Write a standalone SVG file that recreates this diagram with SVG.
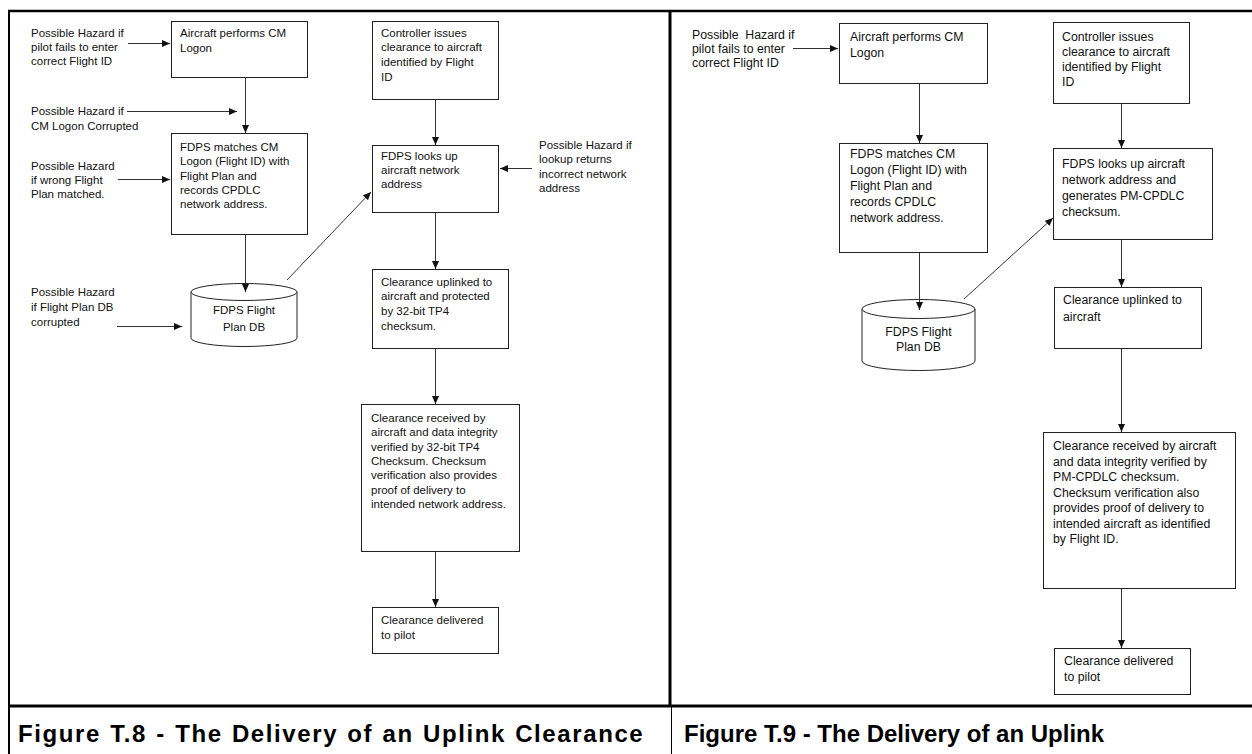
<svg xmlns="http://www.w3.org/2000/svg" width="1252" height="754" viewBox="0 0 1252 754">
  <defs>
    <marker id="ah" markerUnits="userSpaceOnUse" markerWidth="8" markerHeight="7" refX="8" refY="3.5" orient="auto">
      <path d="M0,0 L8,3.5 L0,7 Z" fill="#111"/>
    </marker>
    <style>
      .frame { stroke: #000; fill: none; }
      .box { fill: #fff; stroke: #222; stroke-width: 1; }
      .db { fill: #fff; stroke: #222; stroke-width: 1; }
      .conn line { stroke: #333; stroke-width: 1; fill: none; marker-end: url(#ah); }
      text { font-family: "Liberation Sans", Arial, sans-serif; fill: #111; }
      .s { font-size: 11.5px; }
      .m { font-size: 12.3px; }
      .mid { text-anchor: middle; }
      .cap { font-size: 24px; font-weight: bold; fill: #000; }
    </style>
  </defs>
  <rect width="1252" height="754" fill="#fff"/>

  <!-- table frame -->
  <g id="frame" class="frame">
    <line x1="8" y1="11" x2="1252" y2="11" stroke-width="2.5"/>
    <line x1="9" y1="10" x2="9" y2="754" stroke-width="2"/>
    <line x1="670" y1="10" x2="670" y2="706" stroke-width="3"/>
    <line x1="671.5" y1="706" x2="671.5" y2="754" stroke-width="1"/>
    <line x1="8" y1="706" x2="1252" y2="706" stroke-width="3"/>
  </g>

  <!-- Figure T.8 -->
  <g id="t8-hazard-flightid">
    <text class="s" x="31" y="37">Possible Hazard if</text>
    <text class="s" x="31" y="51">pilot fails to enter</text>
    <text class="s" x="31" y="65">correct Flight ID</text>
  </g>
  <g id="t8-logon">
    <rect class="box" x="171.5" y="21.5" width="136" height="56"/>
    <text class="s" x="180" y="37">Aircraft performs CM</text>
    <text class="s" x="180" y="52">Logon</text>
  </g>
  <g id="t8-hazard-logon">
    <text class="s" x="31" y="115">Possible Hazard if</text>
    <text class="s" x="31" y="130">CM Logon Corrupted</text>
  </g>
  <g id="t8-match">
    <rect class="box" x="171.5" y="133.5" width="136" height="101"/>
    <text class="s" x="180" y="151">FDPS matches CM</text>
    <text class="s" x="180" y="165">Logon (Flight ID) with</text>
    <text class="s" x="180" y="180">Flight Plan and</text>
    <text class="s" x="180" y="194">records CPDLC</text>
    <text class="s" x="180" y="208">network address.</text>
  </g>
  <g id="t8-hazard-plan">
    <text class="s" x="31" y="170">Possible Hazard</text>
    <text class="s" x="31" y="184">if wrong Flight</text>
    <text class="s" x="31" y="198">Plan matched.</text>
  </g>
  <g id="t8-db">
    <path class="db" d="M191,292 A53,8.5 0 0 1 297,292 L297,338 A53,8.5 0 0 1 191,338 Z"/>
    <path class="db" d="M191,292 A53,8.5 0 0 0 297,292"/>
    <text class="s mid" x="244" y="314">FDPS Flight</text>
    <text class="s mid" x="244" y="331">Plan DB</text>
  </g>
  <g id="t8-hazard-db">
    <text class="s" x="31" y="296">Possible Hazard</text>
    <text class="s" x="31" y="311">if Flight Plan DB</text>
    <text class="s" x="31" y="326">corrupted</text>
  </g>
  <g id="t8-controller">
    <rect class="box" x="372.5" y="21.5" width="126" height="78"/>
    <text class="s" x="381" y="37">Controller issues</text>
    <text class="s" x="381" y="51">clearance to aircraft</text>
    <text class="s" x="381" y="66">identified by Flight</text>
    <text class="s" x="381" y="81">ID</text>
  </g>
  <g id="t8-lookup">
    <rect class="box" x="372.5" y="145.5" width="126" height="67"/>
    <text class="s" x="381" y="160">FDPS looks up</text>
    <text class="s" x="381" y="174">aircraft network</text>
    <text class="s" x="381" y="188">address</text>
  </g>
  <g id="t8-hazard-lookup">
    <text class="s" x="539" y="149">Possible Hazard if</text>
    <text class="s" x="539" y="163">lookup returns</text>
    <text class="s" x="539" y="178">incorrect network</text>
    <text class="s" x="539" y="192">address</text>
  </g>
  <g id="t8-uplink">
    <rect class="box" x="372.5" y="269.5" width="136" height="79"/>
    <text class="s" x="381" y="286">Clearance uplinked to</text>
    <text class="s" x="381" y="300">aircraft and protected</text>
    <text class="s" x="381" y="315">by 32-bit TP4</text>
    <text class="s" x="381" y="330">checksum.</text>
  </g>
  <g id="t8-received">
    <rect class="box" x="361.5" y="404.5" width="158" height="147"/>
    <text class="s" x="371" y="422">Clearance received by</text>
    <text class="s" x="371" y="436">aircraft and data integrity</text>
    <text class="s" x="371" y="451">verified by 32-bit TP4</text>
    <text class="s" x="371" y="465">Checksum. Checksum</text>
    <text class="s" x="371" y="479">verification also provides</text>
    <text class="s" x="371" y="494">proof of delivery to</text>
    <text class="s" x="371" y="508">intended network address.</text>
  </g>
  <g id="t8-delivered">
    <rect class="box" x="372.5" y="607.5" width="126" height="46"/>
    <text class="s" x="381" y="624">Clearance delivered</text>
    <text class="s" x="381" y="639">to pilot</text>
  </g>

  <!-- Figure T.9 -->
  <g id="t9-hazard-flightid">
    <text class="m" x="692" y="39" style="white-space:pre">Possible  Hazard if</text>
    <text class="m" x="692" y="53">pilot fails to enter</text>
    <text class="m" x="692" y="67">correct Flight ID</text>
  </g>
  <g id="t9-logon">
    <rect class="box" x="839.5" y="23.5" width="148" height="60"/>
    <text class="m" x="850" y="41">Aircraft performs CM</text>
    <text class="m" x="850" y="57">Logon</text>
  </g>
  <g id="t9-match">
    <rect class="box" x="839.5" y="143.5" width="148" height="109"/>
    <text class="m" x="850" y="158">FDPS matches CM</text>
    <text class="m" x="850" y="174">Logon (Flight ID) with</text>
    <text class="m" x="850" y="190">Flight Plan and</text>
    <text class="m" x="850" y="206">records CPDLC</text>
    <text class="m" x="850" y="222">network address.</text>
  </g>
  <g id="t9-db">
    <path class="db" d="M862,309 A56.5,9.5 0 0 1 975,309 L975,361 A56.5,9.5 0 0 1 862,361 Z"/>
    <path class="db" d="M862,309 A56.5,9.5 0 0 0 975,309"/>
    <text class="m mid" x="918.5" y="336">FDPS Flight</text>
    <text class="m mid" x="918.5" y="351">Plan DB</text>
  </g>
  <g id="t9-controller">
    <rect class="box" x="1053.5" y="22.5" width="136" height="81"/>
    <text class="m" x="1062" y="41">Controller issues</text>
    <text class="m" x="1062" y="56">clearance to aircraft</text>
    <text class="m" x="1062" y="71">identified by Flight</text>
    <text class="m" x="1062" y="86">ID</text>
  </g>
  <g id="t9-lookup">
    <rect class="box" x="1053.5" y="148.5" width="159" height="91"/>
    <text class="m" x="1062" y="168">FDPS looks up aircraft</text>
    <text class="m" x="1062" y="184">network address and</text>
    <text class="m" x="1062" y="200">generates PM-CPDLC</text>
    <text class="m" x="1062" y="216">checksum.</text>
  </g>
  <g id="t9-uplink">
    <rect class="box" x="1054.5" y="287.5" width="147" height="61"/>
    <text class="m" x="1063" y="304">Clearance uplinked to</text>
    <text class="m" x="1063" y="321">aircraft</text>
  </g>
  <g id="t9-received">
    <rect class="box" x="1043.5" y="432.5" width="192" height="156"/>
    <text class="m" x="1053" y="450">Clearance received by aircraft</text>
    <text class="m" x="1053" y="466">and data integrity verified by</text>
    <text class="m" x="1053" y="481">PM-CPDLC checksum.</text>
    <text class="m" x="1053" y="497">Checksum verification also</text>
    <text class="m" x="1053" y="512">provides proof of delivery to</text>
    <text class="m" x="1053" y="528">intended aircraft as identified</text>
    <text class="m" x="1053" y="543">by Flight ID.</text>
  </g>
  <g id="t9-delivered">
    <rect class="box" x="1054.5" y="648.5" width="136" height="46"/>
    <text class="m" x="1064" y="665">Clearance delivered</text>
    <text class="m" x="1064" y="681">to pilot</text>
  </g>

  <!-- connectors, drawn over the nodes so arrow tips show inside the DB cylinders -->
  <g id="connectors" class="conn">
    <!-- T.8 -->
    <line x1="128" y1="43.5" x2="170" y2="43.5"/>
    <line x1="245.5" y1="77.5" x2="245.5" y2="133"/>
    <line x1="127" y1="111.5" x2="237" y2="111.5"/>
    <line x1="118" y1="179.5" x2="170" y2="179.5"/>
    <line x1="245.5" y1="235" x2="245.5" y2="292"/>
    <line x1="117" y1="326.5" x2="182" y2="326.5"/>
    <line x1="287" y1="280" x2="371" y2="192"/>
    <line x1="435.5" y1="99.5" x2="435.5" y2="145"/>
    <line x1="532" y1="168.5" x2="500" y2="168.5"/>
    <line x1="435.5" y1="212.5" x2="435.5" y2="269"/>
    <line x1="435.5" y1="348.5" x2="435.5" y2="404"/>
    <line x1="435.5" y1="551.5" x2="435.5" y2="607"/>
    <!-- T.9 -->
    <line x1="793" y1="48.5" x2="838" y2="48.5"/>
    <line x1="919.5" y1="83.5" x2="919.5" y2="143"/>
    <line x1="919.5" y1="252.5" x2="919.5" y2="310"/>
    <line x1="964" y1="299" x2="1053" y2="218"/>
    <line x1="1121.5" y1="103.5" x2="1121.5" y2="148"/>
    <line x1="1121.5" y1="239.5" x2="1121.5" y2="287"/>
    <line x1="1121.5" y1="348.5" x2="1121.5" y2="432"/>
    <line x1="1121.5" y1="588.5" x2="1121.5" y2="648"/>
  </g>

  <!-- captions -->
  <g id="captions">
    <text class="cap" x="18" y="742" letter-spacing="1.6" word-spacing="1">Figure T.8 - The Delivery of an Uplink Clearance</text>
    <text class="cap" x="684" y="742">Figure T.9 - The Delivery of an Uplink</text>
  </g>
</svg>
